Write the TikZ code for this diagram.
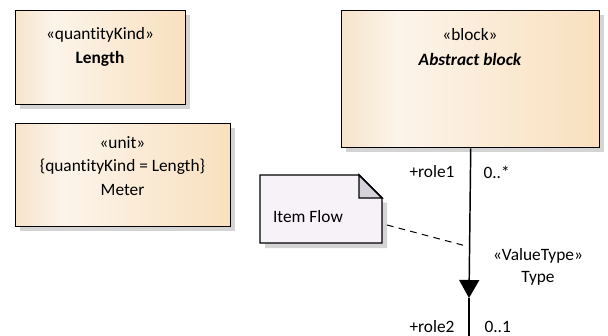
\documentclass[tikz,border=0pt]{standalone}
\usepackage{fontspec}
\setmainfont{Carlito}[Ligatures={NoCommon}]
\usetikzlibrary{positioning,calc,arrows.meta,shadows}

\definecolor{boxedge}{RGB}{246,228,204}
\definecolor{boxlight}{RGB}{252,244,234}
\definecolor{boxpeach}{RGB}{249,224,190}
\definecolor{notefill}{RGB}{246,242,247}
\definecolor{foldfill}{RGB}{214,210,218}
\definecolor{shadowgray}{RGB}{212,212,212}

\pgfdeclarehorizontalshading{blockshade}{100bp}{color(0bp)=(boxedge); color(25bp)=(boxedge); color(36bp)=(boxlight); color(75bp)=(boxpeach); color(100bp)=(boxpeach)}

\tikzset{every picture/.style={line width=0.75pt}}
\tikzset{
  umlbox/.style={draw, line width=1.1pt, shading=blockshade, anchor=north west, inner sep=0pt,
    drop shadow={shadow xshift=3.5pt, shadow yshift=-3.5pt, fill=shadowgray, opacity=1}},
  txt/.style={inner sep=0.75pt, font=\fontsize{13}{15}\selectfont},
  flowline/.style={line width=1.1pt},
}

\begin{document}
\begin{tikzpicture}[x=0.75pt,y=0.75pt,yscale=-1,xscale=1]
\path[use as bounding box] (0,0) rectangle (608,336);

%Shape: Rectangle [id:quantitykind]
\node[umlbox, minimum width=127.5pt, minimum height=70.5pt] (length) at (15,10) {};
%Shape: Rectangle [id:unit]
\node[umlbox, minimum width=161.25pt, minimum height=77.25pt] (meter) at (15,123) {};
%Shape: Rectangle [id:block]
\node[umlbox, minimum width=193.5pt, minimum height=102.75pt] (block) at (341,10) {};

%Shape: Note [id:itemflow]
\node[anchor=north west, minimum width=90.75pt, minimum height=50.25pt, inner sep=0pt] (note) at (260,175) {};
\fill[shadowgray] ($(note.north west)+(5,5)$) -- ($(note.north east)+(5,28)$) -- ($(note.south east)+(5,5)$) -- ($(note.south west)+(5,5)$) -- cycle ;
\draw[line width=1.1pt, fill=notefill] (note.north west) -- ($(note.north east)+(-23,0)$) -- ($(note.north east)+(0,23)$) -- (note.south east) -- (note.south west) -- cycle ;
\draw[line width=1.1pt, fill=foldfill] ($(note.north east)+(-23,0)$) -- ($(note.north east)+(-23,23)$) -- ($(note.north east)+(0,23)$) -- cycle ;

%Straight Lines [id:flow]
\coordinate (flowtip) at (469,298);
\coordinate (flowend) at (469,337);
\draw[flowline, -{Triangle[length=13.5pt, width=15pt]}] (block.south) -- (flowtip) ;
\draw[flowline] (flowtip) -- (flowend) ;

%Straight Lines [id:noteanchor]
\coordinate (notelink) at (387,225);
\coordinate (flowlink) at (466,246);
\draw[dash pattern=on 5pt off 4pt] (notelink) -- (flowlink) ;

% Text Node
\node[txt] (lengthst) at (100,35) {«quantityKind»};
% Text Node
\node[txt, font=\fontsize{13}{15}\selectfont\bfseries] (lengthname) at (100,59) {Length};
% Text Node
\node[txt] (meterst) at (122.5,143) {«unit»};
% Text Node
\node[txt] (metertag) at (122.5,167) {\{quantityKind = Length\}};
% Text Node
\node[txt] (metername) at (122.5,190) {Meter};
% Text Node
\node[txt] (blockst) at (470,35) {«block»};
% Text Node
\node[txt, font=\fontsize{13}{15}\selectfont\bfseries\itshape] (blockname) at (470,59) {Abstract block};
% Text Node
\node[txt] (notetext) at (308,217) {Item Flow};
% Text Node
\node[txt, anchor=east] (role1) at (456,172) {+role1};
% Text Node
\node[txt, anchor=west] (mult1) at (482,172) {0..*};
% Text Node
\node[txt] (flowst) at (538,256) {«ValueType»};
% Text Node
\node[txt] (flowtype) at (538,278) {Type};
% Text Node
\node[txt, anchor=east] (role2) at (456,327) {+role2};
% Text Node
\node[txt, anchor=west] (mult2) at (483,327) {0..1};

\end{tikzpicture}
\end{document}
